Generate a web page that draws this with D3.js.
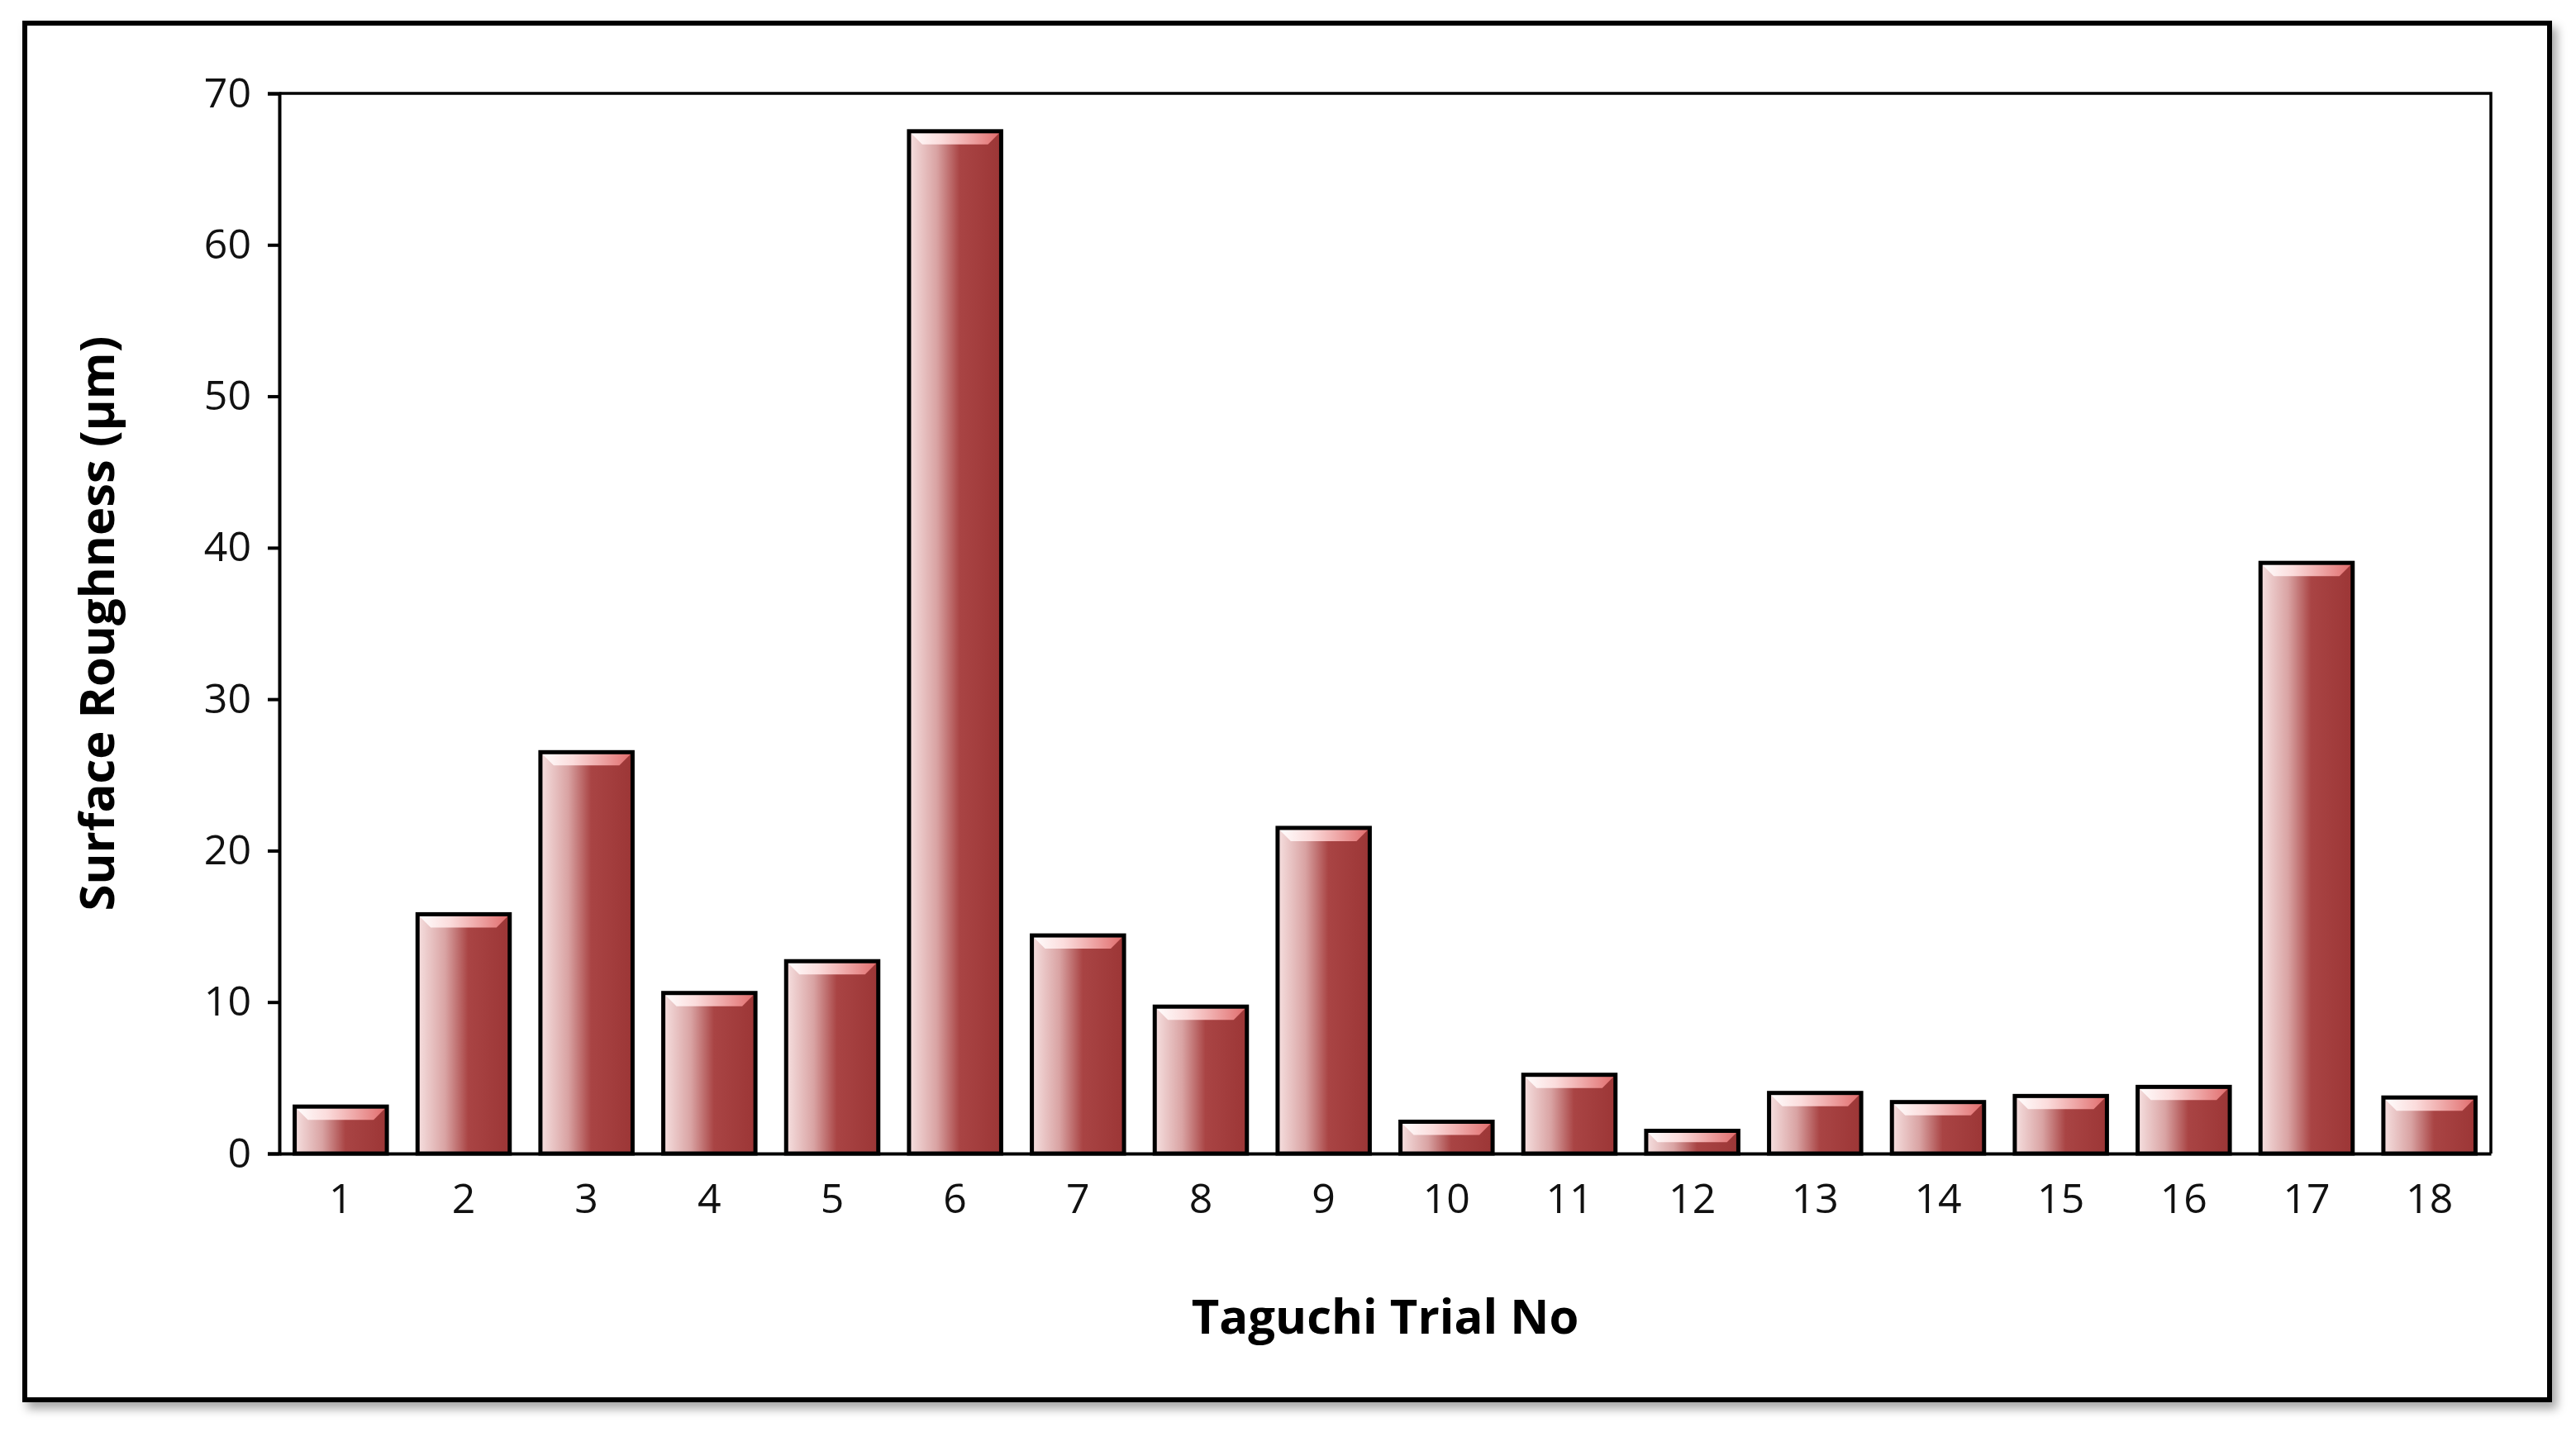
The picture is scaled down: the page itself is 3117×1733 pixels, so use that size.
<!DOCTYPE html>
<html><head><meta charset="utf-8">
<script src="https://cdn.jsdelivr.net/npm/d3@7"></script>
<style>body{margin:0;background:#fff}</style>
</head><body>
<svg id="chart"></svg>
<script>
const trials = d3.range(1, 19).map(String);
const roughness = [3.1, 15.8, 26.5, 10.6, 12.7, 67.5, 14.4, 9.7, 21.5, 2.1, 5.2, 1.5, 4.0, 3.4, 3.8, 4.4, 39.0, 3.7];
const yTicks = [0, 10, 20, 30, 40, 50, 60, 70];

const W = 3117, H = 1733;
const m = {left: 338, right: 3014, top: 113, bottom: 1396};
const svg = d3.select("#chart").attr("width", W).attr("height", H);
const defs = svg.append("defs");

const g1 = defs.append("linearGradient").attr("id", "body");
[[0, "#f6e0e0"], [0.3, "#d9a3a3"], [0.55, "#a94444"], [1, "#9c3636"]].forEach(([o, c]) =>
  g1.append("stop").attr("offset", o).attr("stop-color", c));
const g2 = defs.append("linearGradient").attr("id", "bevel");
[[0, "#ffffff"], [0.35, "#fbdcdc"], [1, "#e06a6a"]].forEach(([o, c]) =>
  g2.append("stop").attr("offset", o).attr("stop-color", c));
const f = defs.append("filter").attr("id", "shadow").attr("x", "-5%").attr("y", "-5%").attr("width", "110%").attr("height", "110%");
f.append("feDropShadow").attr("dx", 6).attr("dy", 8).attr("stdDeviation", 6).attr("flood-color", "#000").attr("flood-opacity", 0.35);

// outer frame
svg.append("rect").attr("x", 30).attr("y", 28).attr("width", 3055).attr("height", 1666)
  .attr("fill", "#fff").attr("stroke", "#000").attr("stroke-width", 6).attr("filter", "url(#shadow)");

const x = d3.scaleBand().domain(trials).range([m.left, m.right]).paddingInner(0.25).paddingOuter(0.125);
const y = d3.scaleLinear().domain([0, 70]).range([m.bottom, m.top]);

// plot box top/right
svg.append("path").attr("d", `M${m.left},${m.top}H${m.right}V${m.bottom}`)
  .attr("fill", "none").attr("stroke", "#000").attr("stroke-width", 3.5);

const bars = svg.selectAll("g.bar").data(roughness).enter().append("g").attr("class", "bar");
bars.append("rect")
  .attr("x", (d, i) => x(trials[i])).attr("y", d => y(d))
  .attr("width", x.bandwidth()).attr("height", d => y(0) - y(d))
  .attr("fill", "url(#body)");
bars.append("path")
  .attr("d", (d, i) => {
    const x0 = x(trials[i]), w = x.bandwidth(), t = y(d), b = Math.min(16, (y(0) - y(d)) / 2);
    return `M${x0},${t}H${x0 + w}L${x0 + w - b},${t + b}H${x0 + b}Z`;
  })
  .attr("fill", "url(#bevel)");
bars.append("rect")
  .attr("x", (d, i) => x(trials[i])).attr("y", d => y(d))
  .attr("width", x.bandwidth()).attr("height", d => y(0) - y(d))
  .attr("fill", "none").attr("stroke", "#000").attr("stroke-width", 5);

// axes
const yAxis = svg.append("g").attr("transform", `translate(${m.left},0)`)
  .call(d3.axisLeft(y).tickValues(yTicks).tickSize(14).tickPadding(20));
const xAxis = svg.append("g").attr("transform", `translate(0,${m.bottom})`)
  .call(d3.axisBottom(x).tickSize(0).tickPadding(36));
[yAxis, xAxis].forEach(a => {
  a.selectAll("path,line").attr("stroke", "#000").attr("stroke-width", 4);
  a.selectAll("text").attr("font-family", "Open Sans").attr("font-size", 50).attr("fill", "#111");
});

svg.append("text").attr("x", (m.left + m.right) / 2).attr("y", 1614)
  .attr("text-anchor", "middle").attr("font-family", "Open Sans").attr("font-weight", "bold")
  .attr("font-size", 58).text("Taguchi Trial No");
svg.append("text").attr("transform", `translate(138,${(m.top + m.bottom) / 2}) rotate(-90)`)
  .attr("text-anchor", "middle").attr("font-family", "Open Sans").attr("font-weight", "bold")
  .attr("font-size", 58).text("Surface Roughness (µm)");
</script>
</body></html>
